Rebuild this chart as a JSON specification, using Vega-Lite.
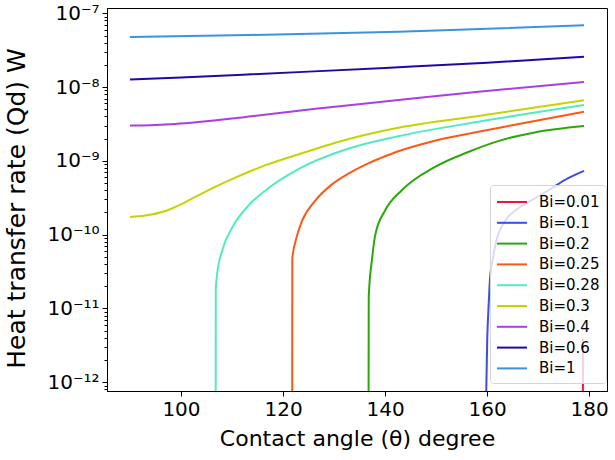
{
  "$schema": "https://vega.github.io/schema/vega-lite/v6.json",
  "width": 500,
  "height": 383,
  "autosize": {"type": "none"},
  "padding": {"left": 107, "top": 8, "right": 8, "bottom": 69},
  "background": "white",
  "data": {
    "values": [
      {"a": 90, "q": 4.76e-8, "s": "Bi=1"},
      {"a": 113.3, "q": 5.08e-8, "s": "Bi=1"},
      {"a": 142.6, "q": 5.62e-8, "s": "Bi=1"},
      {"a": 160, "q": 6.17e-8, "s": "Bi=1"},
      {"a": 179, "q": 6.87e-8, "s": "Bi=1"},

      {"a": 90, "q": 1.27e-8, "s": "Bi=0.6"},
      {"a": 100, "q": 1.35e-8, "s": "Bi=0.6"},
      {"a": 113, "q": 1.48e-8, "s": "Bi=0.6"},
      {"a": 125, "q": 1.62e-8, "s": "Bi=0.6"},
      {"a": 140, "q": 1.82e-8, "s": "Bi=0.6"},
      {"a": 160, "q": 2.14e-8, "s": "Bi=0.6"},
      {"a": 179, "q": 2.58e-8, "s": "Bi=0.6"},

      {"a": 90, "q": 3.02e-9, "s": "Bi=0.4"},
      {"a": 94, "q": 3.05e-9, "s": "Bi=0.4"},
      {"a": 98, "q": 3.14e-9, "s": "Bi=0.4"},
      {"a": 102, "q": 3.29e-9, "s": "Bi=0.4"},
      {"a": 106, "q": 3.49e-9, "s": "Bi=0.4"},
      {"a": 110, "q": 3.74e-9, "s": "Bi=0.4"},
      {"a": 113.3, "q": 3.98e-9, "s": "Bi=0.4"},
      {"a": 126.4, "q": 5.08e-9, "s": "Bi=0.4"},
      {"a": 142.6, "q": 6.67e-9, "s": "Bi=0.4"},
      {"a": 158.3, "q": 8.67e-9, "s": "Bi=0.4"},
      {"a": 179, "q": 1.17e-8, "s": "Bi=0.4"},

      {"a": 90, "q": 1.74e-10, "s": "Bi=0.3"},
      {"a": 93, "q": 1.82e-10, "s": "Bi=0.3"},
      {"a": 97.1, "q": 2.11e-10, "s": "Bi=0.3"},
      {"a": 100, "q": 2.57e-10, "s": "Bi=0.3"},
      {"a": 103.6, "q": 3.47e-10, "s": "Bi=0.3"},
      {"a": 106.5, "q": 4.37e-10, "s": "Bi=0.3"},
      {"a": 110.1, "q": 5.69e-10, "s": "Bi=0.3"},
      {"a": 116.6, "q": 8.75e-10, "s": "Bi=0.3"},
      {"a": 123.1, "q": 1.23e-9, "s": "Bi=0.3"},
      {"a": 132.9, "q": 1.98e-9, "s": "Bi=0.3"},
      {"a": 142.6, "q": 2.81e-9, "s": "Bi=0.3"},
      {"a": 158.3, "q": 4.07e-9, "s": "Bi=0.3"},
      {"a": 179, "q": 6.61e-9, "s": "Bi=0.3"},

      {"a": 106.8, "q": 1e-13, "s": "Bi=0.28"},
      {"a": 106.82, "q": 1.76e-11, "s": "Bi=0.28"},
      {"a": 107.1, "q": 2.96e-11, "s": "Bi=0.28"},
      {"a": 108.1, "q": 6.14e-11, "s": "Bi=0.28"},
      {"a": 110.1, "q": 1.27e-10, "s": "Bi=0.28"},
      {"a": 113.3, "q": 2.51e-10, "s": "Bi=0.28"},
      {"a": 116.6, "q": 4.0e-10, "s": "Bi=0.28"},
      {"a": 123.1, "q": 7.8e-10, "s": "Bi=0.28"},
      {"a": 132.9, "q": 1.47e-9, "s": "Bi=0.28"},
      {"a": 142.6, "q": 2.16e-9, "s": "Bi=0.28"},
      {"a": 158.3, "q": 3.39e-9, "s": "Bi=0.28"},
      {"a": 179, "q": 5.7e-9, "s": "Bi=0.28"},

      {"a": 121.8, "q": 1e-13, "s": "Bi=0.25"},
      {"a": 121.82, "q": 4.74e-11, "s": "Bi=0.25"},
      {"a": 122.5, "q": 8.39e-11, "s": "Bi=0.25"},
      {"a": 123.8, "q": 1.57e-10, "s": "Bi=0.25"},
      {"a": 126.4, "q": 2.93e-10, "s": "Bi=0.25"},
      {"a": 129.6, "q": 4.8e-10, "s": "Bi=0.25"},
      {"a": 132.9, "q": 6.75e-10, "s": "Bi=0.25"},
      {"a": 136.8, "q": 9.33e-10, "s": "Bi=0.25"},
      {"a": 139, "q": 1.08e-9, "s": "Bi=0.25"},
      {"a": 142.6, "q": 1.35e-9, "s": "Bi=0.25"},
      {"a": 149, "q": 1.82e-9, "s": "Bi=0.25"},
      {"a": 158.3, "q": 2.48e-9, "s": "Bi=0.25"},
      {"a": 167, "q": 3.24e-9, "s": "Bi=0.25"},
      {"a": 179, "q": 4.62e-9, "s": "Bi=0.25"},

      {"a": 136.75, "q": 1e-13, "s": "Bi=0.2"},
      {"a": 136.8, "q": 1.43e-11, "s": "Bi=0.2"},
      {"a": 137.42, "q": 4.5e-11, "s": "Bi=0.2"},
      {"a": 138.09, "q": 1.0e-10, "s": "Bi=0.2"},
      {"a": 140.04, "q": 2.14e-10, "s": "Bi=0.2"},
      {"a": 143.28, "q": 4.0e-10, "s": "Bi=0.2"},
      {"a": 149.8, "q": 8.3e-10, "s": "Bi=0.2"},
      {"a": 156.31, "q": 1.32e-9, "s": "Bi=0.2"},
      {"a": 162.81, "q": 1.91e-9, "s": "Bi=0.2"},
      {"a": 169.34, "q": 2.43e-9, "s": "Bi=0.2"},
      {"a": 179, "q": 2.96e-9, "s": "Bi=0.2"},

      {"a": 159.6, "q": 1e-13, "s": "Bi=0.1"},
      {"a": 160.02, "q": 3.72e-12, "s": "Bi=0.1"},
      {"a": 160.35, "q": 1.29e-11, "s": "Bi=0.1"},
      {"a": 160.55, "q": 2.4e-11, "s": "Bi=0.1"},
      {"a": 161.19, "q": 4.99e-11, "s": "Bi=0.1"},
      {"a": 161.84, "q": 8.39e-11, "s": "Bi=0.1"},
      {"a": 162.81, "q": 1.27e-10, "s": "Bi=0.1"},
      {"a": 164.12, "q": 1.74e-10, "s": "Bi=0.1"},
      {"a": 166.07, "q": 2.26e-10, "s": "Bi=0.1"},
      {"a": 169.34, "q": 3.09e-10, "s": "Bi=0.1"},
      {"a": 172.58, "q": 4.22e-10, "s": "Bi=0.1"},
      {"a": 175.8, "q": 5.77e-10, "s": "Bi=0.1"},
      {"a": 179, "q": 7.31e-10, "s": "Bi=0.1"},

      {"a": 178.75, "q": 1e-13, "s": "Bi=0.01"},
      {"a": 178.8, "q": 3.9e-12, "s": "Bi=0.01"}
    ]
  },
  "encoding": {
    "x": {
      "field": "a",
      "type": "quantitative",
      "scale": {"domain": [85.5, 183.5], "nice": false, "zero": false},
      "axis": {
        "values": [100, 120, 140, 160, 180],
        "title": "Contact angle (θ) degree",
        "titleFontSize": 22,
        "titlePadding": 9,
        "labelFontSize": 20,
        "tickSize": 5,
        "labelPadding": 3,
        "grid": false
      }
    }
  },
  "layer": [
    {
      "mark": {"type": "line", "strokeWidth": 2, "clip": true, "interpolate": "monotone"},
      "encoding": {
        "y": {
          "field": "q",
          "type": "quantitative",
          "scale": {"type": "log", "domain": [7.6e-13, 1.18e-7], "nice": false},
          "axis": {
            "orient": "left",
            "values": [1e-12, 1e-11, 1e-10, 1e-9, 1e-8, 1e-7],
            "labelExpr": "['10⁻¹²','10⁻¹¹','10⁻¹⁰','10⁻⁹','10⁻⁸','10⁻⁷'][round(log(datum.value)/LN10)+12]",
            "labelFontSize": 20,
            "labelPadding": 3,
            "tickSize": 5,
            "grid": false,
            "title": "Heat transfer rate (Qd) W",
            "titleFontSize": 25,
            "titleX": -78,
            "titleY": 200
          }
        },
        "color": {
          "field": "s",
          "type": "nominal",
          "scale": {
            "domain": ["Bi=0.01", "Bi=0.1", "Bi=0.2", "Bi=0.25", "Bi=0.28", "Bi=0.3", "Bi=0.4", "Bi=0.6", "Bi=1"],
            "range": ["#f0143c", "#3b4ee0", "#2aa80a", "#fa5a14", "#50ecc0", "#c4d400", "#aa3ee8", "#1f0a9e", "#3a94dc"]
          },
          "legend": {
            "orient": "none",
            "legendX": 383,
            "legendY": 177,
            "title": null,
            "symbolType": "M-1,0H2",
            "symbolSize": 400,
            "symbolStrokeWidth": 2,
            "labelFontSize": 15,
            "labelOffset": 21,
            "rowPadding": 1.8,
            "padding": 6,
            "fillColor": "rgba(255,255,255,0.8)",
            "strokeColor": "#d5d5d5",
            "cornerRadius": 3
          }
        }
      }
    },
    {
      "mark": {"type": "point", "opacity": 0, "clip": true},
      "encoding": {
        "y": {
          "field": "q",
          "type": "quantitative",
          "scale": {"type": "log", "domain": [7.6e-13, 1.18e-7], "nice": false},
          "axis": {
            "orient": "left",
            "values": [8e-13, 9e-13, 2e-12, 3e-12, 4e-12, 5e-12, 6e-12, 7e-12, 8e-12, 9e-12, 2e-11, 3e-11, 4e-11, 5e-11, 6e-11, 7e-11, 8e-11, 9e-11, 2e-10, 3e-10, 4e-10, 5e-10, 6e-10, 7e-10, 8e-10, 9e-10, 2e-9, 3e-9, 4e-9, 5e-9, 6e-9, 7e-9, 8e-9, 9e-9, 2e-8, 3e-8, 4e-8, 5e-8, 6e-8, 7e-8, 8e-8, 9e-8],
            "labels": false,
            "domain": false,
            "tickSize": 3,
            "grid": false,
            "title": null
          }
        }
      }
    }
  ],
  "resolve": {"axis": {"y": "independent"}},
  "config": {
    "font": "DejaVu Sans",
    "view": {"stroke": "#000", "strokeWidth": 1},
    "axis": {
      "domainColor": "#000",
      "tickColor": "#000",
      "labelColor": "#000",
      "titleColor": "#000",
      "titleFontWeight": "normal",
      "labelFont": "DejaVu Sans",
      "titleFont": "DejaVu Sans"
    },
    "legend": {"labelFont": "DejaVu Sans", "labelColor": "#000"}
  }
}
